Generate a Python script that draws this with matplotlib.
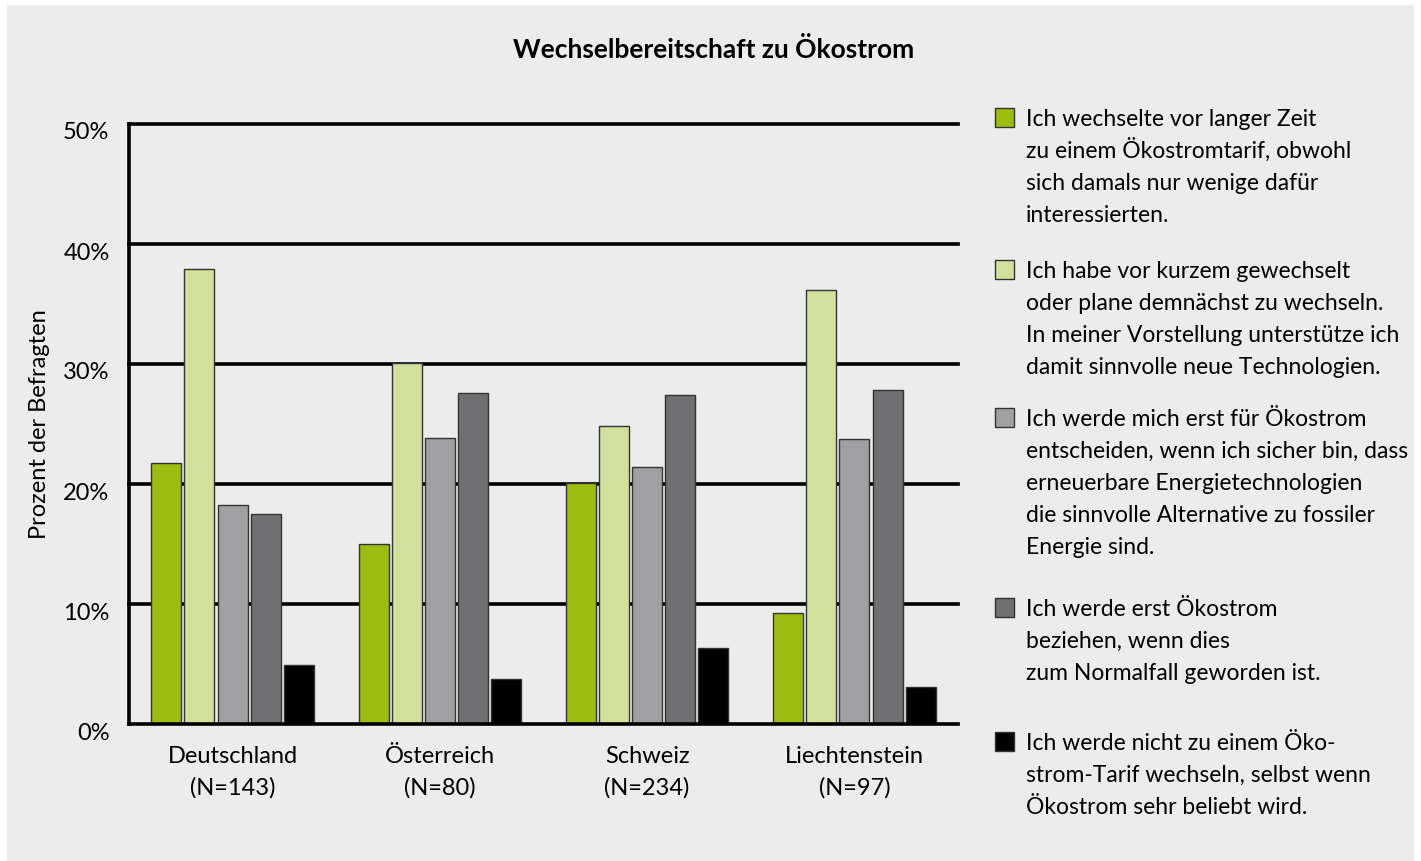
import matplotlib.pyplot as plt
import matplotlib.patches as mpatches
import matplotlib.transforms as mtransforms
import numpy as np

plt.rcParams['font.family'] = ['Lato', 'DejaVu Sans']

laender = ["Deutschland", "Österreich", "Schweiz", "Liechtenstein"]
stichprobe = ["(N=143)", "(N=80)", "(N=234)", "(N=97)"]

lange_her = [21.75, 15.0, 20.1, 9.25]
kuerzlich = [37.9, 30.1, 24.8, 36.2]
wenn_sicher = [18.25, 23.8, 21.4, 23.75]
wenn_normal = [17.5, 27.6, 27.4, 27.8]
nie = [4.9, 3.75, 6.3, 3.1]

legend_texts = [
    ["Ich wechselte vor langer Zeit", "zu einem Ökostromtarif, obwohl",
     "sich damals nur wenige dafür", "interessierten."],
    ["Ich habe vor kurzem gewechselt", "oder plane demnächst zu wechseln.",
     "In meiner Vorstellung unterstütze ich", "damit sinnvolle neue Technologien."],
    ["Ich werde mich erst für Ökostrom", "entscheiden, wenn ich sicher bin, dass",
     "erneuerbare Energietechnologien", "die sinnvolle Alternative zu fossiler",
     "Energie sind."],
    ["Ich werde erst Ökostrom", "beziehen, wenn dies", "zum Normalfall geworden ist."],
    ["Ich werde nicht zu einem Öko-", "strom-Tarif wechseln, selbst wenn",
     "Ökostrom sehr beliebt wird."],
]
farben = ["#9bbd10", "#d1e09c", "#a0a0a2", "#707072", "#000000"]
reihen = [lange_her, kuerzlich, wenn_sicher, wenn_normal, nie]

bg = "#ebeceb"
W, H = 1421, 861
fig = plt.figure(figsize=(W / 100, H / 100), dpi=100)
fig.patch.set_facecolor("white")
fig.patches.append(mpatches.Rectangle((7 / W, 0), 1407 / W, 856 / H,
                                      transform=fig.transFigure, facecolor=bg,
                                      edgecolor="none", zorder=-5))

ax = fig.add_axes([129 / W, 137 / H, 829 / W, 600 / H])
ax.patch.set_alpha(0)

x = np.arange(len(laender))
w = 0.145
step = 0.16
for i, (vals, col) in enumerate(zip(reihen, farben)):
    ax.bar(x + (i - 2) * step, vals, width=w, color=col, edgecolor="#333333",
           linewidth=1.0, zorder=3)

ax.set_xlim(-0.5, 3.5)
ax.set_ylim(0, 50)
ax.set_yticks([0, 10, 20, 30, 40, 50])
ax.set_yticklabels(["0%", "10%", "20%", "30%", "40%", "50%"], fontsize=17)
ax.tick_params(axis="y", length=0, pad=14)
runter = mtransforms.ScaledTranslation(0, -7 / 100, fig.dpi_scale_trans)
for lbl in ax.get_yticklabels():
    lbl.set_transform(lbl.get_transform() + runter)
for yv in [10, 20, 30, 40, 50]:
    ax.axhline(yv, color="black", linewidth=2.6, zorder=2, clip_on=False)
ax.set_xticks([])
for s in ["top", "right"]:
    ax.spines[s].set_visible(False)
ax.spines["left"].set_linewidth(2.6)
ax.spines["bottom"].set_linewidth(2.6)
ax.spines["bottom"].set_zorder(4)

# Ländernamen zweizeilig
trans = mtransforms.blended_transform_factory(ax.transData, fig.transFigure)
for xi, name, n in zip(x, laender, stichprobe):
    ax.text(xi, 1 - 763 / H, name, transform=trans, fontsize=17,
            ha="center", va="baseline")
    ax.text(xi, 1 - 795 / H, n, transform=trans, fontsize=17,
            ha="center", va="baseline")

fig.text(40 / W, 1 - 424 / H, "Prozent der Befragten", rotation=90,
         fontsize=17, ha="center", va="center")
fig.text(714 / W, 1 - 50 / H, "Wechselbereitschaft zu Ökostrom",
         fontsize=19, fontweight="bold", ha="center", va="center")

# Legende
starts = [117, 269, 417, 607, 741]
for zeilen, col, y0 in zip(legend_texts, farben, starts):
    fig.patches.append(mpatches.Rectangle((995 / W, 1 - (y0 + 10) / H),
                                          19 / W, 19 / H,
                                          transform=fig.transFigure,
                                          facecolor=col, edgecolor="#333333",
                                          linewidth=1.0))
    for k, z in enumerate(zeilen):
        fig.text(1026 / W, 1 - (y0 + 9 + 32 * k) / H, z, fontsize=16.5,
                 ha="left", va="baseline")

fig.savefig("out.png", dpi=100, facecolor=fig.get_facecolor())
